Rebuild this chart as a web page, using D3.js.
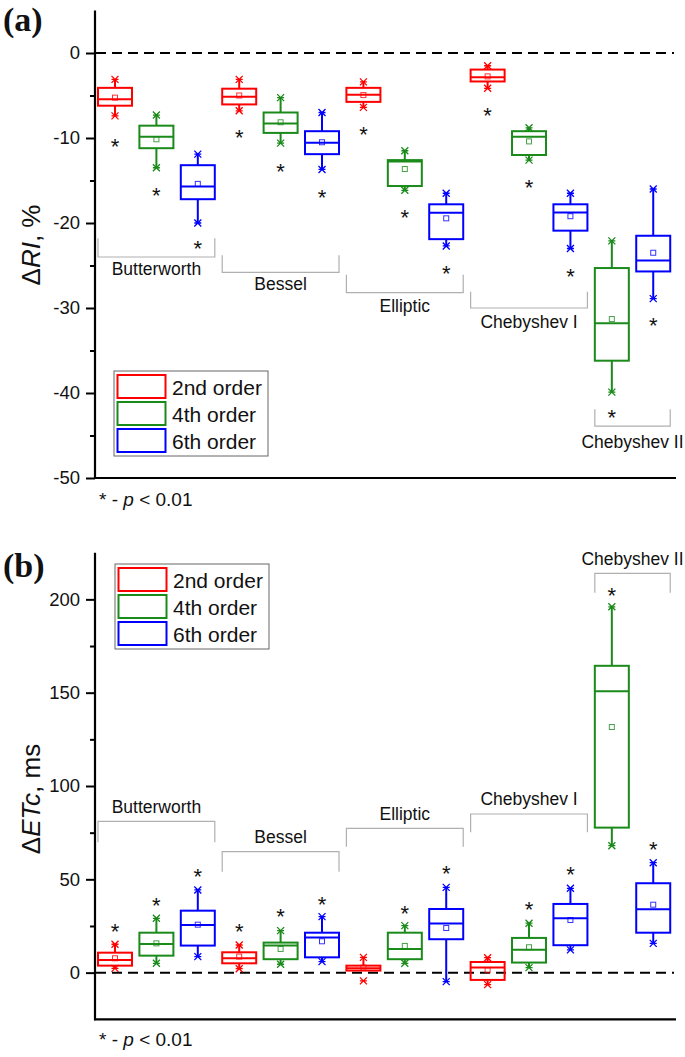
<!DOCTYPE html>
<html><head><meta charset="utf-8">
<script src="https://cdn.jsdelivr.net/npm/d3@7"></script>
<style>
body{margin:0;background:#fff}
svg{display:block}
text{font-family:"Liberation Sans",Arial,sans-serif;fill:#111}
text.letter{font-family:"Liberation Serif","Times New Roman",serif;font-weight:bold}
</style>
</head><body>
<svg id="chart" width="685" height="1057"></svg>
<script>
// ---------- data ----------
const filters = ["Butterworth", "Bessel", "Elliptic", "Chebyshev I", "Chebyshev II"];
const orders = ["2nd order", "4th order", "6th order"];
// slot -> filter / order
const slotFilter = [0,0,0, 1,1,1, 2,2,2, 3,3,3, 4,4];
const slotOrder  = [0,1,2, 0,1,2, 0,1,2, 0,1,2, 1,2];

// Panel (a): ΔRI, %
const riHigh   = [-3.1, -7.3, -11.9, -3.1, -5.25, -7.0, -3.4, -11.5, -16.5, -1.5, -8.8, -16.5, -22.1, -16.0];
const riQ3     = [-4.1, -8.55, -13.2, -4.2, -7.0, -9.2, -4.1, -12.6, -17.8, -1.95, -9.2, -17.8, -25.3, -21.5];
const riMedian = [-5.45, -9.85, -15.7, -5.15, -8.3, -10.55, -4.9, -12.75, -18.8, -2.85, -9.85, -18.75, -31.8, -24.4];
const riMean   = [-5.25, -10.15, -15.4, -5.0, -8.15, -10.5, -4.95, -13.65, -19.45, -2.75, -10.4, -19.2, -31.3, -23.5];
const riQ1     = [-6.2, -11.2, -17.2, -6.05, -9.4, -11.9, -5.75, -15.65, -21.9, -3.35, -12.0, -20.9, -36.2, -25.7];
const riLow    = [-7.4, -13.5, -20.0, -6.8, -10.6, -13.7, -6.4, -16.15, -22.7, -4.15, -12.6, -23.0, -39.9, -28.9];
const riMaxMark = [-3.1, -7.3, -11.9, -3.1, -5.25, -7.0, -3.4, -11.5, -16.5, -1.5, -8.8, -16.5, -22.1, -16.0];
const riMinMark = [-7.4, -13.5, -20.0, -6.8, -10.6, -13.7, -6.4, -16.15, -22.7, -4.15, -12.6, -23.0, -39.9, -28.9];
const riStar   = [-10.4, -16.2, -22.4, -9.3, -13.4, -16.4, -9.0, -18.8, -25.3, -6.8, -15.25, -25.7, -42.3, -31.5];
const riTicksMajor = [-50, -40, -30, -20, -10, 0];
const riTicksMinor = [-45, -35, -25, -15, -5];
// bracket annotation levels (data units): [tick end, bar, label baseline]
const riBracketTick  = [-21.8, -23.8, -26.1, -28.1, -41.9];
const riBracketBar   = [-24.0, -25.8, -28.2, -30.0, -43.9];
const riBracketLabel = [-26.1, -27.9, -30.5, -32.4, -46.45];

// Panel (b): ΔETc, ms
const etHigh   = [15.2, 29.1, 44.3, 14.8, 22.5, 30.0, 8.2, 25.2, 45.7, 8.0, 26.5, 45.2, 196.0, 58.9];
const etQ3     = [10.7, 21.4, 33.2, 10.9, 16.1, 21.4, 3.75, 21.4, 34.1, 5.7, 18.6, 36.8, 164.4, 47.9];
const etMedian = [6.8, 15.4, 25.5, 7.7, 14.5, 18.8, 2.3, 12.7, 26.3, 2.7, 12.2, 29.1, 150.7, 34.0];
const etMean   = [7.7, 15.7, 25.7, 8.6, 12.7, 16.8, 2.7, 14.3, 23.9, 1.3, 13.6, 28.2, 131.6, 36.4];
const etQ1     = [3.75, 9.1, 14.5, 5.0, 7.2, 8.2, 1.1, 7.2, 17.9, -3.9, 5.4, 14.7, 77.7, 21.4];
const etLow    = [2.3, 5.0, 8.6, 2.1, 4.5, 5.9, 1.1, 5.0, -4.8, -6.4, 2.7, 12.2, 68.0, 15.7];
const etMaxMark = [15.2, 29.1, 44.3, 14.8, 22.5, 30.0, 8.2, 25.2, 45.7, 8.0, 26.5, 45.2, 196.0, 58.9];
const etMinMark = [2.3, 5.0, 8.6, 2.1, 4.5, 5.9, -4.4, 5.0, -4.8, -6.4, 2.7, 12.2, 68.0, 15.7];
const etStar   = [24.6, 38.9, 54.1, 24.6, 32.7, 39.3, null, 34.5, 55.9, null, 36.6, 55.0, 204.6, 68.9];
const etTicksMajor = [0, 50, 100, 150, 200];
const etTicksMinor = [25, 75, 125, 175];
const etBracketTick  = [69.8, 54.1, 67.5, 75.2, 203.5];
const etBracketBar   = [81.0, 64.8, 77.3, 85.0, 213.9];
const etBracketLabel = [85.7, 69.3, 81.8, 89.8, 218.3];

// ---------- drawing ----------
const colors = ["#ff0000", "#1a8a1a", "#0000ff"];
const svg = d3.select("#chart");
const x = d3.scaleLinear().domain([-0.483, 13.55]).range([95, 676]);
const boxHalf = 17;

function panel(cfg) {
  const g = svg.append("g");
  const y = d3.scaleLinear().domain(cfg.domain).range(cfg.range);

  // zero dashed line
  g.append("line").attr("x1", 96).attr("x2", 674)
    .attr("y1", y(0)).attr("y2", y(0))
    .attr("stroke", "#000").attr("stroke-width", 2).attr("stroke-dasharray", "10,6");

  // brackets
  filters.forEach((f, fi) => {
    const slots = d3.range(slotFilter.length).filter(i => slotFilter[i] === fi);
    const x0 = x(d3.min(slots)) - boxHalf, x1 = x(d3.max(slots)) + boxHalf;
    const yt = y(cfg.bTick[fi]), yb = y(cfg.bBar[fi]);
    g.append("path")
      .attr("d", `M${x0},${yt}V${yb}H${x1}V${yt}`)
      .attr("fill", "none").attr("stroke", "#b0b0b0").attr("stroke-width", 1.2);
    g.append("text").attr("x", (x0 + x1) / 2).attr("y", y(cfg.bLabel[fi]))
      .attr("text-anchor", "middle").attr("font-size", 17.5).text(f);
  });

  // boxes
  const n = slotFilter.length;
  for (let i = 0; i < n; i++) {
    const c = colors[slotOrder[i]];
    const cx = x(i);
    const bg = g.append("g");
    bg.append("line").attr("x1", cx).attr("x2", cx).attr("y1", y(cfg.q3[i])).attr("y2", y(cfg.hi[i]))
      .attr("stroke", c).attr("stroke-width", 2);
    bg.append("line").attr("x1", cx).attr("x2", cx).attr("y1", y(cfg.q1[i])).attr("y2", y(cfg.lo[i]))
      .attr("stroke", c).attr("stroke-width", 2);
    bg.append("rect").attr("x", cx - boxHalf).attr("width", boxHalf * 2)
      .attr("y", y(cfg.q3[i])).attr("height", y(cfg.q1[i]) - y(cfg.q3[i]))
      .attr("fill", "none").attr("stroke", c).attr("stroke-width", 2);
    bg.append("line").attr("x1", cx - boxHalf).attr("x2", cx + boxHalf)
      .attr("y1", y(cfg.med[i])).attr("y2", y(cfg.med[i]))
      .attr("stroke", c).attr("stroke-width", 2);
    bg.append("rect").attr("x", cx - 2.5).attr("y", y(cfg.mean[i]) - 2.5)
      .attr("width", 5).attr("height", 5).attr("fill", "none")
      .attr("stroke", c).attr("stroke-width", 1).attr("opacity", 0.8);
    [cfg.maxM[i], cfg.minM[i]].forEach(v => {
      const yy = y(v);
      bg.append("path").attr("d", `M${cx-3.5},${yy-3.5}L${cx+3.5},${yy+3.5}M${cx-3.5},${yy+3.5}L${cx+3.5},${yy-3.5}M${cx-3.5},${yy}H${cx+3.5}`)
        .attr("stroke", c).attr("stroke-width", 1.3).attr("fill", "none");
    });
    if (cfg.star[i] !== null) {
      g.append("text").attr("x", cx).attr("y", y(cfg.star[i]) + 12.5)
        .attr("text-anchor", "middle").attr("font-size", 22).text("*");
    }
  }

  // axes
  const ax = g.append("g").attr("transform", "translate(95,0)");
  ax.call(d3.axisLeft(y).tickValues(cfg.major).tickSize(9).tickPadding(6).tickSizeOuter(0).tickFormat(d => String(d)));
  ax.selectAll("text").style("font-size", "18.5px").style("font-family", "Liberation Sans, Arial, sans-serif").style("fill", "#111");
  ax.selectAll("line").attr("stroke", "#000").attr("stroke-width", 2);
  ax.select(".domain").remove();
  const axm = g.append("g").attr("transform", "translate(95,0)");
  axm.call(d3.axisLeft(y).tickValues(cfg.minor).tickSize(5).tickSizeOuter(0).tickFormat(""));
  axm.selectAll("line").attr("stroke", "#000").attr("stroke-width", 2);
  axm.select(".domain").remove();
  g.append("line").attr("x1", 95).attr("x2", 95).attr("y1", cfg.range[1]).attr("y2", cfg.range[0] + 1)
    .attr("stroke", "#000").attr("stroke-width", 2.2);
  g.append("line").attr("x1", 94).attr("x2", 676).attr("y1", cfg.range[0]).attr("y2", cfg.range[0])
    .attr("stroke", "#000").attr("stroke-width", 2.2);

  // y label
  const yl = g.append("text").attr("transform", `translate(${cfg.ylx},${cfg.yly}) rotate(-90)`)
    .attr("text-anchor", "middle").attr("font-size", 26);
  cfg.ylabel.forEach(p => yl.append("tspan").attr("font-style", p[1] ? "italic" : "normal").text(p[0]));

  // panel letter
  g.append("text").attr("class", "letter").attr("x", 3).attr("y", cfg.letterY)
    .attr("font-size", 34).text(cfg.letter);

  // legend
  const lg = g.append("g").attr("transform", `translate(${cfg.legX},${cfg.legY})`);
  lg.append("rect").attr("x", 0).attr("y", 0).attr("width", 154).attr("height", 85)
    .attr("fill", "#fff").attr("stroke", "#666").attr("stroke-width", 1);
  orders.forEach((o, k) => {
    lg.append("rect").attr("x", 3.5).attr("y", 4 + k * 27).attr("width", 48).attr("height", 23)
      .attr("fill", "none").attr("stroke", colors[k]).attr("stroke-width", 2);
    lg.append("text").attr("x", 58).attr("y", 24 + k * 27).attr("font-size", 21).text(o);
  });

  // significance note
  const note = g.append("text").attr("x", 99).attr("y", cfg.noteY).attr("font-size", 19);
  note.append("tspan").text("* - ");
  note.append("tspan").attr("font-style", "italic").text("p");
  note.append("tspan").text(" < 0.01");
}

panel({
  domain: [-50, 5], range: [478, 10.5],
  hi: riHigh, q3: riQ3, med: riMedian, mean: riMean, q1: riQ1, lo: riLow,
  maxM: riMaxMark, minM: riMinMark, star: riStar,
  major: riTicksMajor, minor: riTicksMinor,
  bTick: riBracketTick, bBar: riBracketBar, bLabel: riBracketLabel,
  ylabel: [["Δ", false], ["RI", true], [", %", false]], ylx: 40, yly: 245,
  letter: "(a)", letterY: 31,
  legX: 114, legY: 371, noteY: 506
});

panel({
  domain: [-25, 225], range: [1019.3, 552.7],
  hi: etHigh, q3: etQ3, med: etMedian, mean: etMean, q1: etQ1, lo: etLow,
  maxM: etMaxMark, minM: etMinMark, star: etStar,
  major: etTicksMajor, minor: etTicksMinor,
  bTick: etBracketTick, bBar: etBracketBar, bLabel: etBracketLabel,
  ylabel: [["Δ", false], ["ETc", true], [", ms", false]], ylx: 40, yly: 799,
  letter: "(b)", letterY: 577,
  legX: 115, legY: 564, noteY: 1046
});
</script>
</body></html>
